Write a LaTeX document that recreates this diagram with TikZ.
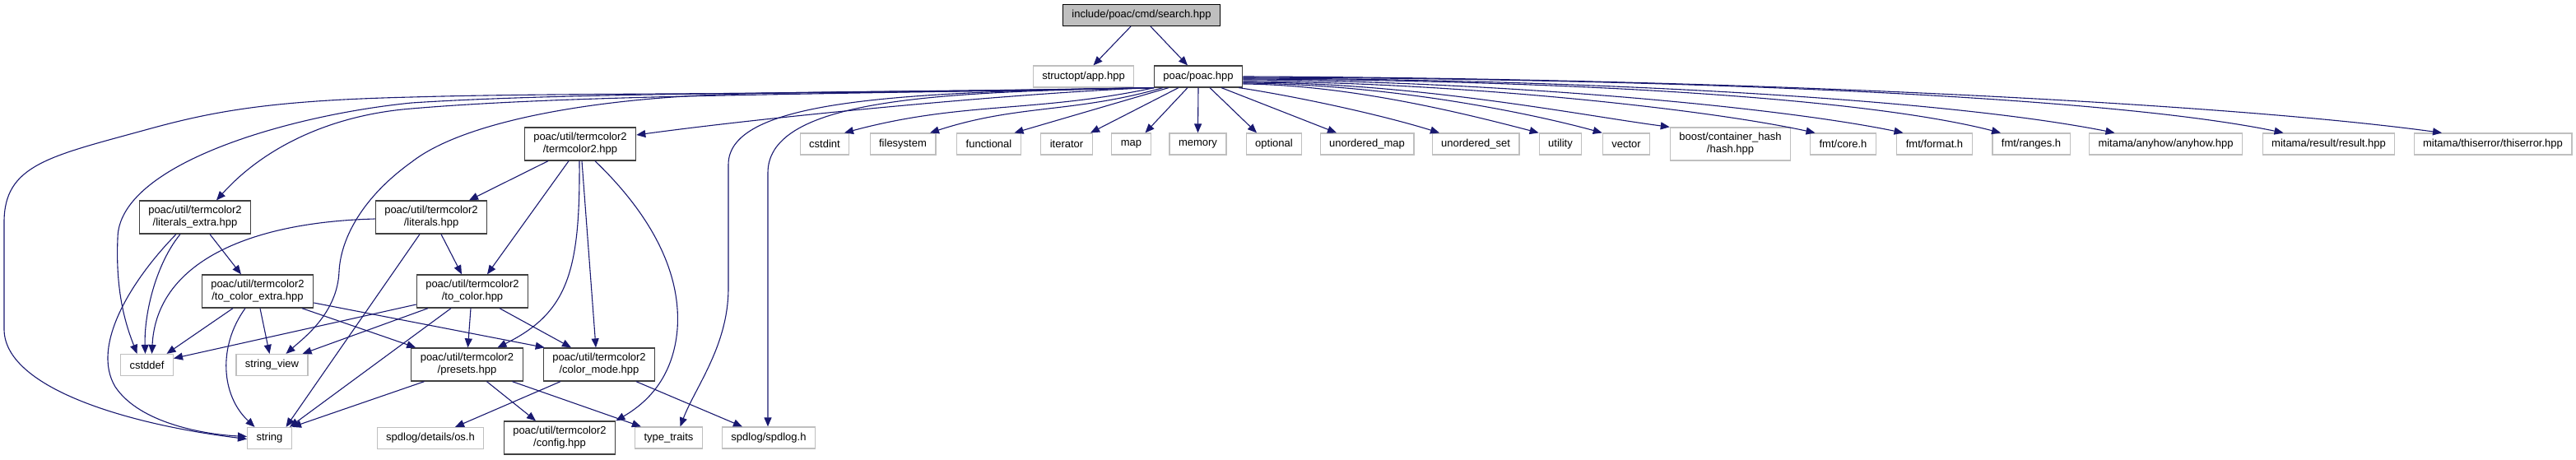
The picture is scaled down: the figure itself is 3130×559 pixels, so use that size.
\documentclass[tikz,border=0pt]{standalone}
\usepackage{fontspec}
\setmainfont{Liberation Sans}
\usetikzlibrary{arrows.meta}
\definecolor{edgeblue}{HTML}{191970}
\definecolor{grey75}{HTML}{BFBFBF}
\definecolor{grey25}{HTML}{404040}

\begin{document}
\begin{tikzpicture}[x=1pt, y=-1pt,
    file/.style={rectangle, draw=grey25, fill=white, line width=1.2pt, minimum height=26pt, inner xsep=11pt, inner ysep=6.5pt, align=center, font=\fontsize{13}{15}\selectfont},
    extfile/.style={file, draw=grey75},
    root/.style={file, draw=black, fill=grey75},
    dep/.style={draw=edgeblue, line width=1.1pt, -{Triangle[length=11pt, width=9pt]}}]
\useasboundingbox (0,0) rectangle (3130,559);
% top
\node[root] (search) at (1387,18.5) {include/poac/cmd/search.hpp};
\node[extfile] (app) at (1316.5,93) {structopt/app.hpp};
\node[file] (poac) at (1456,93) {poac/poac.hpp};
% headers of poac.hpp
\node[extfile] (cstdint) at (1002,175) {cstdint};
\node[extfile] (filesystem) at (1097,175) {filesystem};
\node[extfile] (functional) at (1201.5,175) {functional};
\node[extfile] (iterator) at (1296,175) {iterator};
\node[extfile] (map) at (1374.5,175) {map};
\node[extfile] (memory) at (1455.5,175) {memory};
\node[extfile] (optional) at (1548,175) {optional};
\node[extfile] (umap) at (1661,175) {unordered\_map};
\node[extfile] (uset) at (1793,175) {unordered\_set};
\node[extfile] (utility) at (1896,175) {utility};
\node[extfile] (vector) at (1976,175) {vector};
\node[extfile] (hash) at (2102.5,175) {boost/container\_hash\\/hash.hpp};
\node[extfile] (fmtcore) at (2239.5,175) {fmt/core.h};
\node[extfile] (fmtformat) at (2350.5,175) {fmt/format.h};
\node[extfile] (fmtranges) at (2468,175) {fmt/ranges.h};
\node[extfile] (anyhow) at (2631.5,175) {mitama/anyhow/anyhow.hpp};
\node[extfile] (result) at (2829.5,175) {mitama/result/result.hpp};
\node[extfile] (thiserror) at (3029,175) {mitama/thiserror/thiserror.hpp};
% termcolor2
\node[file] (termcolor) at (705,175) {poac/util/termcolor2\\/termcolor2.hpp};
\node[file] (litextra) at (237,264) {poac/util/termcolor2\\/literals\_extra.hpp};
\node[file] (literals) at (524,264) {poac/util/termcolor2\\/literals.hpp};
\node[file] (tocolorextra) at (313,354) {poac/util/termcolor2\\/to\_color\_extra.hpp};
\node[file] (tocolor) at (574,354) {poac/util/termcolor2\\/to\_color.hpp};
\node[extfile] (cstddef) at (178.5,443.5) {cstddef};
\node[extfile] (strview) at (330.5,443.5) {string\_view};
\node[file] (presets) at (567.5,443) {poac/util/termcolor2\\/presets.hpp};
\node[file] (colormode) at (728,443) {poac/util/termcolor2\\/color\_mode.hpp};
\node[extfile] (string) at (327.5,532.5) {string};
\node[extfile] (osh) at (523,532.5) {spdlog/details/os.h};
\node[file] (config) at (680,532) {poac/util/termcolor2\\/config.hpp};
\node[extfile] (typetraits) at (812.5,532) {type\_traits};
\node[extfile] (spdlog) at (934,532) {spdlog/spdlog.h};
% search.hpp
\draw[dep] ([xshift=-13pt]search.south) -- ([xshift=12pt]app.north);
\draw[dep] ([xshift=11pt]search.south) -- ([xshift=-13pt]poac.north);
% poac.hpp, near row
\draw[dep] ([xshift=1pt]poac.south west) to[out=192, in=15] ([xshift=24pt]cstdint.north);
\draw[dep] ([xshift=-43pt]poac.south) to[out=196, in=18] ([xshift=33pt]filesystem.north);
\draw[dep] ([xshift=-36pt]poac.south) -- ([xshift=31pt]functional.north);
\draw[dep] ([xshift=-24pt]poac.south) -- ([xshift=29pt]iterator.north);
\draw[dep] ([xshift=-13pt]poac.south) -- ([xshift=17pt]map.north);
\draw[dep] (poac.south) -- (memory.north);
\draw[dep] ([xshift=14pt]poac.south) -- ([xshift=-21pt]optional.north);
\draw[dep] ([xshift=28pt]poac.south) -- ([xshift=-37pt]umap.north);
\draw[dep] ([xshift=-5pt]poac.south east) .. controls (1580,118) and (1680,140) .. ([xshift=-44pt]uset.north);
\draw[dep] ([yshift=-9pt]poac.east) .. controls (1640,103) and (1780,138) .. (utility.north west);
\draw[dep] ([yshift=-8pt]poac.east) .. controls (1680,102) and (1850,135) .. (vector.north west);
\draw[dep] ([yshift=-7pt]poac.east) .. controls (1720,100) and (1920,140) .. (hash.north west);
\draw[dep] ([yshift=-6pt]poac.east) .. controls (1750,99) and (2060,130) .. ([xshift=-34pt]fmtcore.north);
\draw[dep] ([yshift=-4pt]poac.east) .. controls (1800,98) and (2150,128) .. ([xshift=-38pt]fmtformat.north);
\draw[dep] ([yshift=-3pt]poac.east) .. controls (1850,97) and (2250,115) .. ([xshift=-37pt]fmtranges.north);
\draw[dep] ([yshift=-2pt]poac.east) .. controls (1900,96) and (2350,118) .. ([xshift=-62pt]anyhow.north);
\draw[dep] ([yshift=-1pt]poac.east) .. controls (2000,95) and (2550,115) .. ([xshift=-55pt]result.north);
\draw[dep] (poac.east) .. controls (2100,95) and (2700,125) .. ([xshift=-62pt]thiserror.north);
% poac.hpp, far left
\draw[dep] (poac.south west) .. controls (1000,116) and (700,112) .. (500,118) .. controls (330,122) and (260,135) .. (180,157) .. controls (60,190) and (5,200) .. (5,270) -- (5,400) .. controls (5,470) and (150,515) .. ([yshift=-1pt]string.west);
\draw[dep] (poac.south west) .. controls (1000,114) and (700,112) .. (500,125) .. controls (350,140) and (143,200) .. (143,290) .. controls (140,360) and (155,400) .. ([xshift=-12pt]cstddef.north);
\draw[dep] (poac.south west) .. controls (1000,115) and (700,115) .. (500,132) .. controls (400,140) and (320,180) .. ([xshift=26pt]litextra.north);
\draw[dep] (poac.south west) .. controls (1150,112) and (950,110) .. (833,117) .. controls (700,125) and (560,150) .. (500,197) .. controls (440,240) and (414,290) .. (412,330) .. controls (410,380) and (370,410) .. ([xshift=17pt]strview.north);
\draw[dep] (poac.south west) .. controls (1250,112) and (950,140) .. ([yshift=11pt]termcolor.east);
\draw[dep] (poac.south west) .. controls (1100,112) and (885,120) .. (885,200) -- (885,350) .. controls (885,420) and (845,470) .. ([xshift=14pt]typetraits.north);
\draw[dep] (poac.south west) .. controls (1150,112) and (933,118) .. (933,210) -- ([xshift=-1pt]spdlog.north);
% termcolor2.hpp
\draw[dep] ([xshift=-39pt]termcolor.south) -- ([xshift=46pt]literals.north);
\draw[dep] ([xshift=-14pt]termcolor.south) -- ([xshift=18pt]tocolor.north);
\draw[dep] ([xshift=-1pt]termcolor.south) .. controls (705,330) and (690,380) .. ([xshift=37pt]presets.north);
\draw[dep] ([xshift=2pt]termcolor.south) -- ([xshift=-4pt]colormode.north);
\draw[dep] ([xshift=18pt]termcolor.south) .. controls (790,260) and (828,330) .. (823,400) .. controls (818,460) and (785,490) .. (config.north east);
% literals_extra.hpp
\draw[dep] ([xshift=-18pt]litextra.south) .. controls (190,320) and (175,380) .. ([xshift=-2pt]cstddef.north);
\draw[dep] ([xshift=-23pt]litextra.south) .. controls (160,340) and (110,420) .. (140,470) .. controls (170,515) and (250,528) .. ([yshift=2pt]string.west);
\draw[dep] ([xshift=18pt]litextra.south) -- ([xshift=-20pt]tocolorextra.north);
% literals.hpp
\draw[dep] ([yshift=-2pt]literals.west) .. controls (300,270) and (190,320) .. ([xshift=6pt]cstddef.north);
\draw[dep] ([xshift=-14pt]literals.south) -- ([xshift=20pt]string.north);
\draw[dep] ([xshift=12pt]literals.south) -- ([xshift=-13pt]tocolor.north);
% to_color_extra.hpp
\draw[dep] ([xshift=-30pt]tocolorextra.south) -- ([xshift=24pt]cstddef.north);
\draw[dep] ([xshift=3pt]tocolorextra.south) -- ([xshift=-3pt]strview.north);
\draw[dep] ([xshift=-15pt]tocolorextra.south) .. controls (265,420) and (268,480) .. ([xshift=-18pt]string.north);
\draw[dep] ([xshift=54pt]tocolorextra.south) -- ([xshift=6pt]presets.north west);
\draw[dep] ([yshift=-14pt]tocolorextra.east) -- ([xshift=2pt]colormode.north west);
% to_color.hpp
\draw[dep] ([yshift=-16pt]tocolor.west) -- ([yshift=8pt]cstddef.east);
\draw[dep] ([xshift=-54pt]tocolor.south) -- ([xshift=-7pt]strview.north east);
\draw[dep] ([xshift=-26pt]tocolor.south) -- ([xshift=-3pt]string.north east);
\draw[dep] ([xshift=-2pt]tocolor.south) -- ([xshift=1pt]presets.north);
\draw[dep] ([xshift=33pt]tocolor.south) -- ([xshift=-34pt]colormode.north);
% presets.hpp
\draw[dep] ([xshift=-52pt]presets.south) -- (string.north east);
\draw[dep] ([xshift=24pt]presets.south) -- ([xshift=-29pt]config.north);
\draw[dep] ([xshift=55pt]presets.south) -- ([xshift=8pt]typetraits.north west);
% color_mode.hpp
\draw[dep] ([xshift=-47pt]colormode.south) -- ([xshift=30pt]osh.north);
\draw[dep] ([xshift=45pt]colormode.south) -- ([xshift=-32pt]spdlog.north);
\end{tikzpicture}
\end{document}
